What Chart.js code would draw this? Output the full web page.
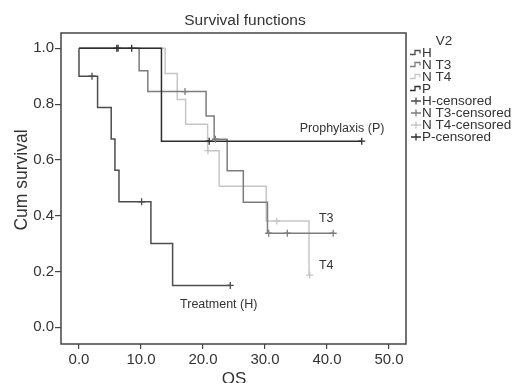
<!DOCTYPE html>
<html>
<head>
<meta charset="utf-8">
<script src="https://cdn.jsdelivr.net/npm/chart.js@4"></script>
<style>
  html, body { margin: 0; padding: 0; background: #fff; }
  #wrap { width: 516px; height: 383px; position: relative; }
</style>
</head>
<body>
<div id="wrap"><canvas id="chartKM" width="516" height="383"></canvas></div>
<script>
// ── Dados ──
const xTicks = [0, 10, 20, 30, 40, 50];
const yTicks = [0, 0.2, 0.4, 0.6, 0.8, 1.0];

// Treatment (H)
const hTimes = [0, 0, 3.0, 5.2, 5.8, 6.45, 11.6, 15.1, 24.4];
const hSurv  = [1, 0.9, 0.7875, 0.675, 0.5625, 0.45, 0.30, 0.15, 0.15];
const hCensTimes = [2.1, 10.1, 24.4];
const hCensSurv  = [0.9, 0.45, 0.15];

// N T3
const t3Times = [0, 9.7, 11.1, 20.5, 21.8, 23.9, 26.5, 30.4, 41.0];
const t3Surv  = [1, 0.92, 0.845, 0.757, 0.674, 0.561, 0.448, 0.337, 0.337];
const t3CensTimes = [17.1, 22.0, 30.6, 33.6, 41.0];
const t3CensSurv  = [0.845, 0.674, 0.337, 0.337, 0.337];

// N T4
const t4Times = [0, 13.9, 15.85, 17.2, 20.75, 22.6, 30.2, 37.1];
const t4Surv  = [1, 0.91, 0.817, 0.728, 0.633, 0.506, 0.381, 0.187];
const t4CensTimes = [20.8, 31.9, 37.2];
const t4CensSurv  = [0.633, 0.381, 0.187];

// Prophylaxis (P)
const pTimes = [0, 13.3, 45.6];
const pSurv  = [1, 0.667, 0.667];
const pCensTimes = [6.1, 6.3, 8.5, 21.0, 45.6];
const pCensSurv  = [1, 1, 1, 0.667, 0.667];

const legendLabels = ['H', 'N T3', 'N T4', 'P', 'H-censored', 'N T3-censored', 'N T4-censored', 'P-censored'];
const serieCores = ['#4d4d4d', '#7d7d7d', '#c6c6c6', '#2e2e2e'];

const fonte = "'Liberation Sans', Arial, Helvetica, sans-serif";
const textoCor = '#333333';

const toPts = (xs, ys) => xs.map((x, i) => ({ x: x, y: ys[i] }));

function linha(label, xs, ys, cor, ordem) {
    return {
        type: 'line', label: label, data: toPts(xs, ys),
        borderColor: cor, borderWidth: 1.5, stepped: 'before',
        pointRadius: 0, fill: false, order: ordem
    };
}
function censura(label, xs, ys, cor, ordem) {
    return {
        type: 'scatter', label: label, data: toPts(xs, ys),
        borderColor: cor, backgroundColor: cor, pointStyle: 'cross',
        pointRadius: 3.5, borderWidth: 1.3, order: ordem
    };
}

// ── Plugin: moldura, títulos, anotações e legenda ──
const extras = {
    id: 'extras',
    afterDraw(chart) {
        const { ctx, chartArea: a, scales: { x, y } } = chart;
        ctx.save();
        // moldura
        ctx.strokeStyle = '#444';
        ctx.lineWidth = 1.5;
        ctx.strokeRect(a.left, a.top, a.right - a.left, a.bottom - a.top);

        ctx.fillStyle = textoCor;
        ctx.textBaseline = 'middle';
        // título
        ctx.font = '15.5px ' + fonte;
        ctx.textAlign = 'center';
        ctx.fillText('Survival functions', 245, 21);
        // eixo x
        ctx.font = '17px ' + fonte;
        ctx.fillText('OS', x.getPixelForValue(25), 379);
        // eixo y
        ctx.save();
        ctx.translate(22, 180);
        ctx.rotate(-Math.PI / 2);
        ctx.font = '17.5px ' + fonte;
        ctx.fillText('Cum survival', 0, 0);
        ctx.restore();

        // rótulos das curvas
        ctx.font = '12.5px ' + fonte;
        ctx.textAlign = 'left';
        ctx.fillText('Prophylaxis (P)', x.getPixelForValue(35.6), y.getPixelForValue(0.714));
        ctx.fillText('T3', x.getPixelForValue(38.7), y.getPixelForValue(0.388));
        ctx.fillText('T4', x.getPixelForValue(38.7), y.getPixelForValue(0.22));
        ctx.fillText('Treatment (H)', x.getPixelForValue(16.3), y.getPixelForValue(0.083));

        // legenda
        ctx.font = '13.5px ' + fonte;
        ctx.textAlign = 'center';
        ctx.fillText('V2', 444, 41);
        ctx.textAlign = 'left';
        legendLabels.forEach((lab, i) => {
            const yy = 53 + i * 12;
            const cor = serieCores[i % 4];
            ctx.strokeStyle = cor;
            ctx.lineWidth = 1.3;
            ctx.beginPath();
            if (i < 4) {
                ctx.moveTo(410, yy + 1.5);
                ctx.lineTo(415, yy + 1.5);
                ctx.lineTo(415, yy - 2.5);
                ctx.lineTo(420, yy - 2.5);
                ctx.lineTo(420, yy + 0.5);
            } else {
                ctx.moveTo(411, yy);
                ctx.lineTo(421, yy);
                ctx.moveTo(416, yy - 3.5);
                ctx.lineTo(416, yy + 3.5);
            }
            ctx.stroke();
            ctx.fillStyle = textoCor;
            ctx.fillText(lab, 422, yy + 0.5);
        });
        ctx.restore();
    }
};

new Chart(document.getElementById('chartKM'), {
    data: {
        datasets: [
            censura('H-censored', hCensTimes, hCensSurv, serieCores[0], 1),
            censura('N T3-censored', t3CensTimes, t3CensSurv, serieCores[1], 2),
            censura('N T4-censored', t4CensTimes, t4CensSurv, serieCores[2], 3),
            censura('P-censored', pCensTimes, pCensSurv, serieCores[3], 0),
            linha('H', hTimes, hSurv, serieCores[0], 5),
            linha('N T3', t3Times, t3Surv, serieCores[1], 6),
            linha('N T4', t4Times, t4Surv, serieCores[2], 7),
            linha('P', pTimes, pSurv, serieCores[3], 4)
        ]
    },
    options: {
        responsive: false,
        animation: false,
        layout: { padding: { left: 0, right: 110, top: 33, bottom: 0 } },
        plugins: { legend: { display: false }, tooltip: { enabled: false }, title: { display: false } },
        scales: {
            x: {
                type: 'linear', min: -2.9, max: 52.74,
                afterBuildTicks: s => { s.ticks = xTicks.map(v => ({ value: v })); },
                afterFit: s => { s.height = 39; },
                grid: { drawOnChartArea: false, drawTicks: true, tickLength: 5, color: '#444', lineWidth: 1.2 },
                border: { display: false },
                ticks: { padding: 2, color: textoCor, font: { family: fonte, size: 15 }, callback: v => v.toFixed(1), maxRotation: 0 }
            },
            y: {
                type: 'linear', min: -0.06, max: 1.055,
                afterBuildTicks: s => { s.ticks = yTicks.map(v => ({ value: v })); },
                afterFit: s => { s.width = 61; },
                grid: { drawOnChartArea: false, drawTicks: true, tickLength: 6, color: '#444', lineWidth: 1.2 },
                border: { display: false },
                ticks: { padding: 1, color: textoCor, font: { family: fonte, size: 15 }, callback: v => v.toFixed(1) }
            }
        }
    },
    plugins: [extras]
});
</script>
</body>
</html>
